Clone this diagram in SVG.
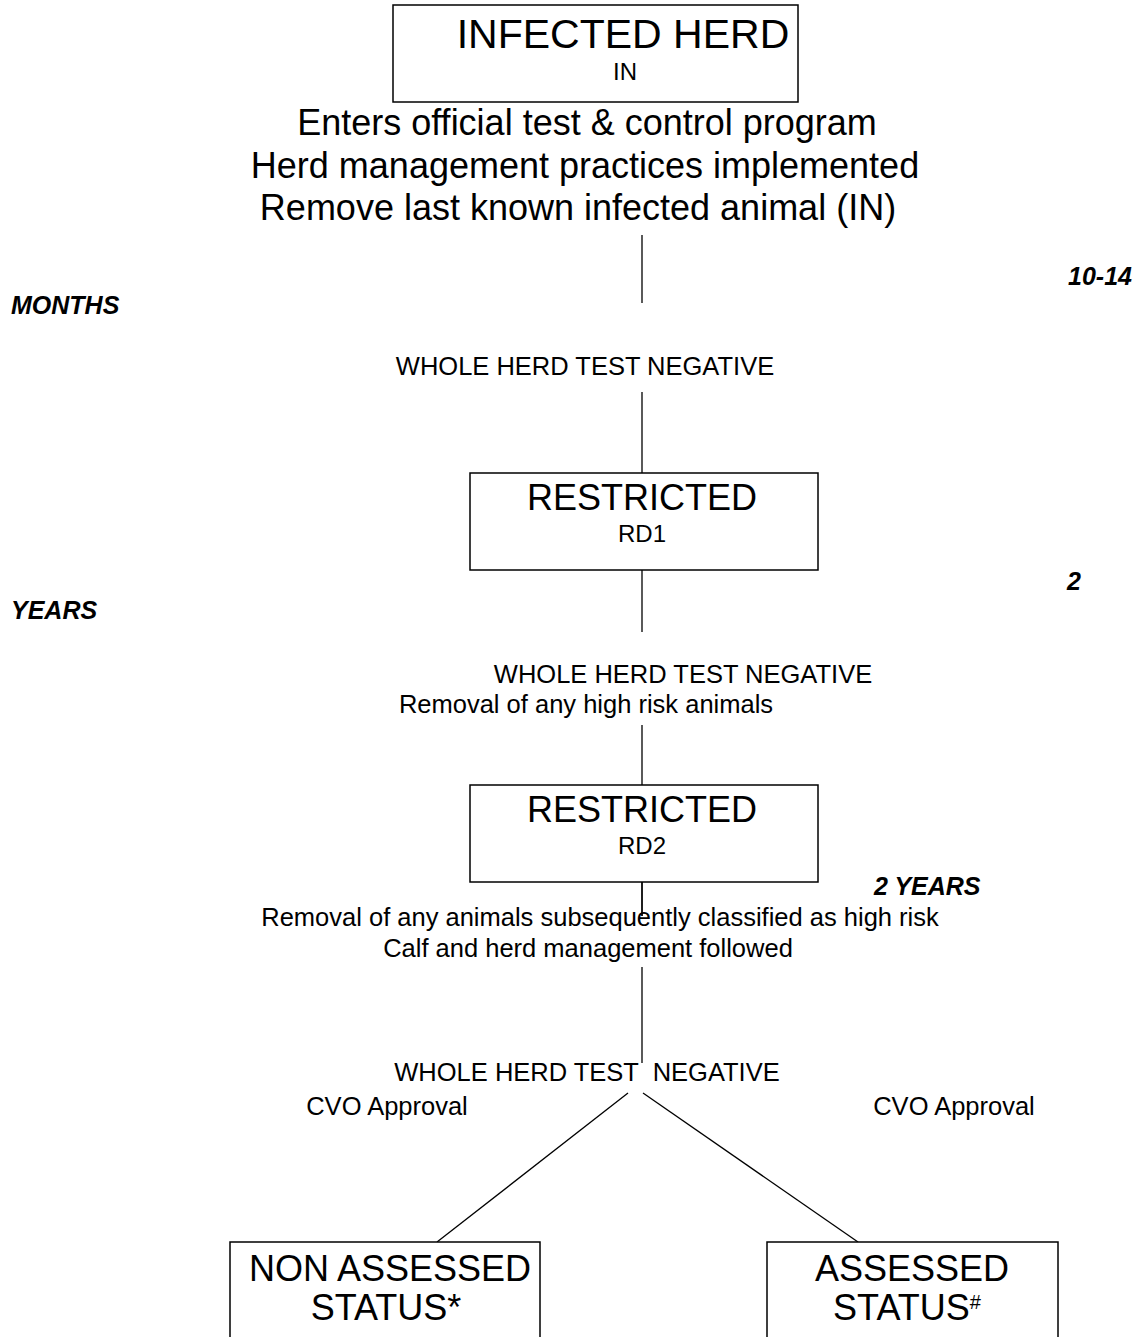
<svg xmlns="http://www.w3.org/2000/svg" width="1141" height="1337" viewBox="0 0 1141 1337">
<style>
text{font-family:"Liberation Sans",Arial,sans-serif;fill:#000}
.box{fill:#fff;stroke:#000;stroke-width:1.5}
.ln{stroke:#000;stroke-width:1.3;fill:none}
.bi{font-weight:bold;font-style:italic;font-size:25px}
.m{text-anchor:middle}
.t{font-size:25.5px}
.big{font-size:36px}
.sm{font-size:24px}
</style>
<rect width="1141" height="1337" fill="#fff"/>
<g id="connectors">
<line class="ln" x1="642" y1="235" x2="642" y2="303"/>
<line class="ln" x1="642" y1="392" x2="642" y2="473"/>
<line class="ln" x1="642" y1="548" x2="642" y2="632"/>
<line class="ln" x1="642" y1="725" x2="642" y2="785"/>
<line class="ln" x1="642" y1="858" x2="642" y2="916"/>
<line class="ln" x1="642" y1="967" x2="642" y2="1063"/>
<line class="ln" x1="628" y1="1093" x2="437" y2="1242"/>
<line class="ln" x1="643" y1="1093" x2="858" y2="1242"/>
</g>
<g id="infected">
<rect class="box" x="393" y="5" width="405" height="97"/>
<text class="m" x="623" y="48" font-size="41">INFECTED HERD</text>
<text class="m sm" x="625" y="80">IN</text>
</g>
<g id="enters">
<text class="m big" x="587" y="135">Enters official test &amp; control program</text>
<text class="m big" x="585" y="178">Herd management practices implemented</text>
<text class="m big" x="578" y="220">Remove last known infected animal (IN)</text>
</g>
<g id="timing">
<text class="bi" x="1132" y="285" text-anchor="end">10-14</text>
<text class="bi" x="11" y="314">MONTHS</text>
<text class="bi m" x="1074" y="590">2</text>
<text class="bi" x="11" y="619">YEARS</text>
<text class="bi" x="874" y="895">2 YEARS</text>
</g>
<g id="test1">
<text class="m t" x="585" y="375">WHOLE HERD TEST NEGATIVE</text>
</g>
<g id="rd1">
<rect class="box" x="470" y="473" width="348" height="97"/>
<text class="m big" x="642" y="510">RESTRICTED</text>
<text class="m sm" x="642" y="542">RD1</text>
</g>
<g id="test2">
<text class="m t" x="683" y="683">WHOLE HERD TEST NEGATIVE</text>
<text class="m t" x="586" y="713">Removal of any high risk animals</text>
</g>
<g id="rd2">
<rect class="box" x="470" y="785" width="348" height="97"/>
<text class="m big" x="642" y="822">RESTRICTED</text>
<text class="m sm" x="642" y="854">RD2</text>
</g>
<line class="ln" x1="642" y1="882" x2="642" y2="916"/>
<g id="removal">
<text class="m t" x="600" y="926">Removal of any animals subsequently classified as high risk</text>
<text class="m t" x="588" y="957">Calf and herd management followed</text>
</g>
<g id="test3">
<text class="m t" x="587" y="1081" style="white-space:pre">WHOLE HERD TEST  NEGATIVE</text>
</g>
<g id="cvo">
<text class="m t" x="387" y="1115">CVO Approval</text>
<text class="m t" x="954" y="1115">CVO Approval</text>
</g>
<g id="nonassessed">
<rect class="box" x="230" y="1242" width="310" height="110"/>
<text class="m big" x="390" y="1281">NON ASSESSED</text>
<text class="m big" x="386" y="1320">STATUS*</text>
</g>
<g id="assessed">
<rect class="box" x="767" y="1242" width="291" height="110"/>
<text class="m big" x="912" y="1281">ASSESSED</text>
<text class="m big" x="907" y="1320">STATUS<tspan font-size="20" dy="-11">#</tspan></text>
</g>
</svg>
